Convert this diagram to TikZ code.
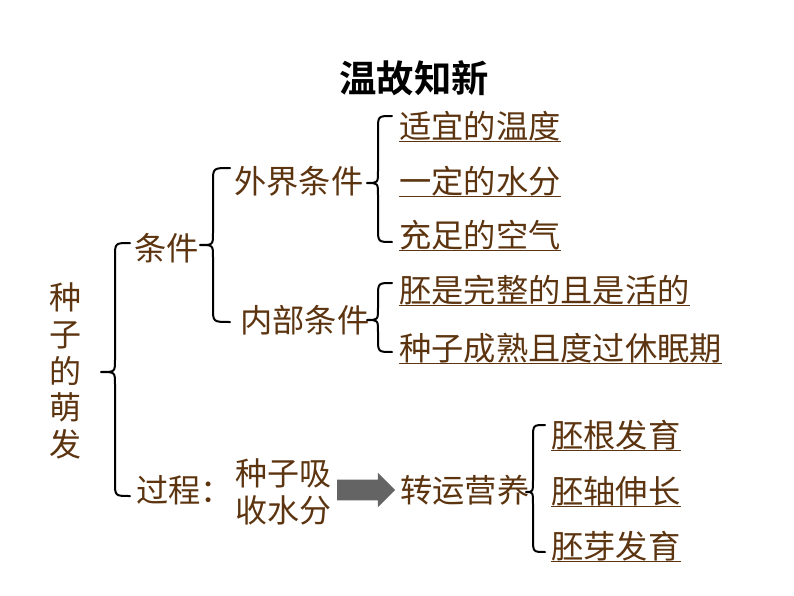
\documentclass[tikz,border=0pt]{standalone}
\usepackage{fontspec}
\setmainfont{Noto Sans CJK SC}
\newfontfamily\cjkbold{Noto Sans CJK SC Bold}
\usetikzlibrary{shapes.arrows}
\definecolor{txtbrown}{RGB}{92,52,16}
\definecolor{arrgray}{RGB}{100,100,100}
\newcommand{\mybrace}[6]{% xe xv xt yt ym yb
  \draw[bracestyle] (#1,#4) .. controls (#2,#4) .. (#2,#4+14) -- (#2,#5-12)
    .. controls (#2,#5) .. (#3,#5) .. controls (#2,#5) .. (#2,#5+12)
    -- (#2,#6-14) .. controls (#2,#6) .. (#1,#6);}
\tikzset{
  txt/.style={text=txtbrown, font=\fontsize{24.2pt}{28pt}\selectfont, inner sep=0pt,
              text height=0.88em, text depth=0.12em},
  item/.style={txt, anchor=west},
  ulc/.style={draw=txtbrown, line width=1.1pt},
  bracestyle/.style={draw=black, line width=1.5pt, line cap=round, line join=round},
}
\begin{document}
\begin{tikzpicture}[x=0.75pt,y=-0.75pt]
\useasboundingbox (0,0) rectangle (794,596);
% title
\node[font=\cjkbold\fontsize{28pt}{32pt}\selectfont, text=black] (title) at (414,78) {温故知新};
% left vertical
\node[txt, align=center, font=\fontsize{24pt}{27.5pt}\selectfont, text height=, text depth=] (root) at (66,371) {种\\子\\的\\萌\\发};
% level 1
\node[txt, anchor=west] (cond) at (134,255) {条件};
\node[txt, anchor=west] (proc) at (136,497) {过程：};
% level 2
\node[txt, anchor=west] (ext) at (234,188) {外界条件};
\node[txt, anchor=west] (int) at (240,327) {内部条件};
% external items
\node[item] (e1) at (399,133) {适宜的温度};
\node[item] (e2) at (399,188) {一定的水分};
\node[item] (e3) at (399,242) {充足的空气};
% internal items
\node[item] (i1) at (399,297) {胚是完整的且是活的};
\node[item] (i2) at (399,355) {种子成熟且度过休眠期};
% process
\node[txt, align=center, text height=, text depth=, font=\fontsize{24pt}{27.5pt}\selectfont] (absorb) at (283,492) {种子吸\\收水分};
\node[single arrow, fill=arrgray, draw=none, minimum height=58*0.75pt, minimum width=34*0.75pt,
      inner xsep=0pt, inner ysep=7.5pt, single arrow head extend=5.25pt, single arrow head indent=0pt] (arr) at (361,490) {};
\node[txt, anchor=west] (trans) at (400,497) {转运营养};
\node[item] (p1) at (551,442) {胚根发育};
\node[item] (p2) at (551,498) {胚轴伸长};
\node[item] (p3) at (551,553) {胚芽发育};
% underlines
\foreach \n in {e1,e2,e3,i1,i2,p1,p2,p3}{
  \draw[ulc] ([yshift=-1pt]\n.south west) -- ([yshift=-1pt]\n.south east);
}
% braces
\mybrace{130}{115}{101}{243}{372}{496}
\mybrace{230}{213}{200}{168}{245}{322}
\mybrace{392}{378}{367}{116}{183}{242}
\mybrace{392}{378}{367}{283}{320}{352}
\mybrace{545}{533}{526}{425}{492}{552}
\end{tikzpicture}
\end{document}
